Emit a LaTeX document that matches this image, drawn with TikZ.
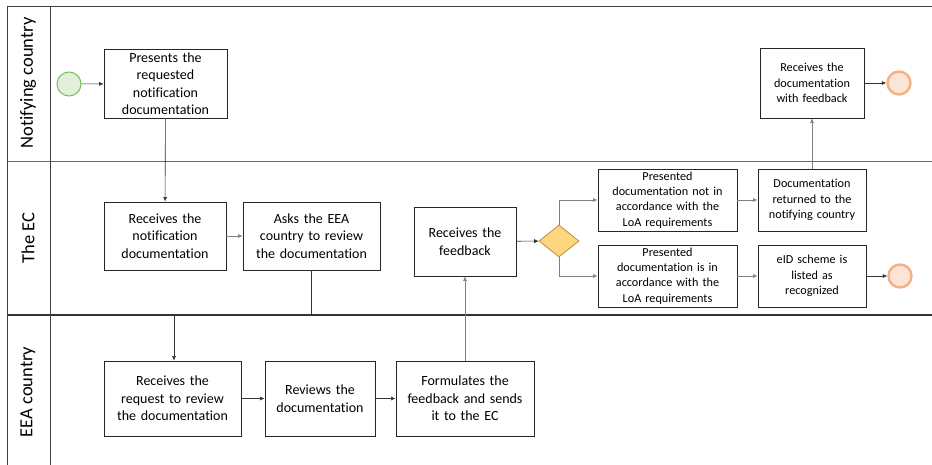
\documentclass[tikz,border=0pt]{standalone}
\usepackage{fontspec}
\setmainfont[RawFeature={-liga}]{Carlito}
\usetikzlibrary{shapes.geometric,arrows.meta}
\definecolor{startfill}{HTML}{E2F0D9}
\definecolor{startdraw}{HTML}{7CBF5E}
\definecolor{endfill}{HTML}{FBE5D6}
\definecolor{enddraw}{HTML}{F4B183}
\definecolor{gatefill}{HTML}{FFD680}
\definecolor{gatedraw}{HTML}{B8913A}
\tikzset{
  task/.style={draw=black!85, line width=0.8pt, fill=white, align=center, inner sep=2pt,
    font=\fontsize{14}{17.5}\selectfont},
  smalltask/.style={task, font=\fontsize{12.2}{15.3}\selectfont},
  startev/.style={circle, draw=startdraw, fill=startfill, line width=1pt, minimum size=24pt, inner sep=0pt},
  endev/.style={circle, draw=enddraw, fill=endfill, line width=2.4pt, minimum size=23pt, inner sep=0pt},
  gate/.style={diamond, draw=gatedraw, fill=gatefill, line width=0.8pt, minimum width=40pt, minimum height=32pt, inner sep=0pt, aspect=1.25},
  flow/.style={draw=black!80, line width=0.6pt, -{Latex[length=4.5pt,width=4pt]}},
  lightflow/.style={flow, draw=black!50},
  lane/.style={draw=black!75, line width=1pt},
  lanelabel/.style={rotate=90, font=\fontsize{18.5}{20}\selectfont}
}
\begin{document}
\begin{tikzpicture}[x=1pt,y=-1pt]
\useasboundingbox (0,0) rectangle (932,465);
% pool frame and lanes
\draw[lane] (7,7) -- (932,7);
\draw[lane, draw=black!60, line width=0.9pt] (7,161) -- (932,161);
\draw[lane, draw=black!80, line width=1.6pt] (7,315) -- (932,315);
\draw[lane] (7,7) -- (7,465);
\draw[lane] (50,7) -- (50,465);
\node[lanelabel] (l1) at (28,83) {Notifying country};
\node[lanelabel] (l2) at (28,238) {The EC};
\node[lanelabel] (l3) at (28,392) {EEA country};

% notifying country lane
\node[startev] (start) at (69,84) {};
\node[task, minimum width=123pt, minimum height=69pt, text width=118pt] (present) at (165.5,83.5)
  {Presents the\\ requested\\ notification\\ documentation};
\node[smalltask, minimum width=104pt, minimum height=70pt, text width=100pt] (withfb) at (812,83)
  {Receives the\\ documentation\\ with feedback};
\node[endev] (end1) at (899,83) {};

% EC lane
\node[task, minimum width=122pt, minimum height=68pt, text width=118pt] (recv) at (165,236)
  {Receives the\\ notification\\ documentation};
\node[task, minimum width=137pt, minimum height=68pt, text width=133pt] (ask) at (311.5,236)
  {Asks the EEA\\ country to review\\ the documentation};
\node[task, minimum width=102pt, minimum height=69pt, text width=98pt] (feedback) at (465,241.5)
  {Receives the\\ feedback};
\node[gate] (gw) at (559,241) {};
\node[smalltask, minimum width=139pt, minimum height=62pt, text width=135pt] (notok) at (667.5,200)
  {Presented\\ documentation not in\\ accordance with the\\ LoA requirements};
\node[smalltask, minimum width=108pt, minimum height=62pt, text width=104pt] (returned) at (812,200)
  {Documentation\\ returned to the\\ notifying country};
\node[smalltask, minimum width=139pt, minimum height=62pt, text width=135pt] (ok) at (667.5,276)
  {Presented\\ documentation is in\\ accordance with the\\ LoA requirements};
\node[smalltask, minimum width=108pt, minimum height=62pt, text width=104pt] (listed) at (812,276)
  {eID scheme is\\ listed as\\ recognized};
\node[endev] (end2) at (900,276) {};

% EEA country lane
\node[task, minimum width=137pt, minimum height=75pt, text width=133pt] (request) at (172.5,398.5)
  {Receives the\\ request to review\\ the documentation};
\node[task, minimum width=110pt, minimum height=75pt, text width=106pt] (review) at (320,398.5)
  {Reviews the\\ documentation};
\node[task, minimum width=138pt, minimum height=75pt, text width=134pt] (formulate) at (465,398.5)
  {Formulates the\\ feedback and sends\\ it to the EC};

% sequence flows
\coordinate (bend) at (174,314);
\draw[flow] (start) -- (present);
\draw[flow] (present) -- (recv);
\draw[lightflow] (recv) -- (ask);
\draw[flow] (ask.south) |- (bend) -- (bend |- request.north);
\draw[flow] (request) -- (review);
\draw[flow] (review) -- (formulate);
\draw[lightflow] (formulate) -- (feedback);
\draw[flow] (feedback) -- (gw);
\draw[lightflow] (gw.north) |- (notok.west);
\draw[lightflow] (gw.south) |- (ok.west);
\draw[lightflow] (notok) -- (returned);
\draw[lightflow] (ok) -- (listed);
\draw[flow] (listed) -- (end2);
\draw[lightflow] (returned) -- (withfb);
\draw[flow] (withfb) -- (end1);
\end{tikzpicture}
\end{document}
